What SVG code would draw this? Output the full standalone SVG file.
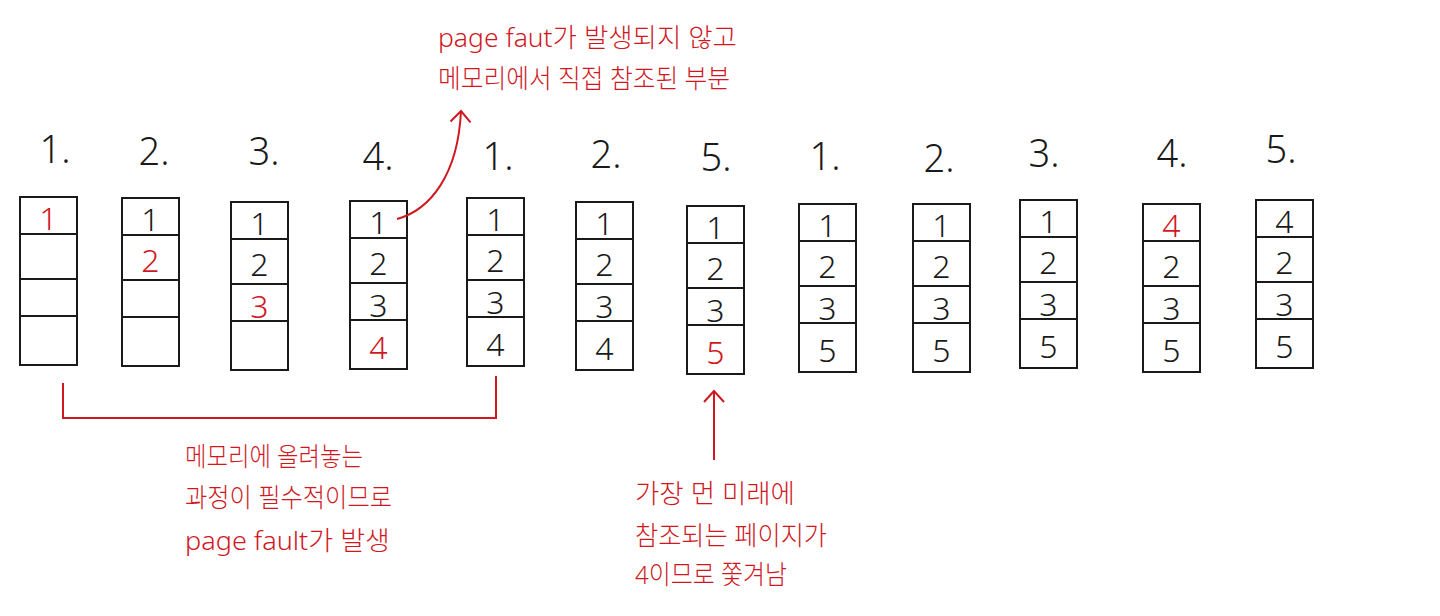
<svg xmlns="http://www.w3.org/2000/svg" width="1440" height="616" viewBox="0 0 1440 616">
<style>
.d{font-family:"Noto Sans","Liberation Sans",sans-serif;font-weight:300;font-size:32px;fill:#1a1a1a;text-anchor:middle}
.d.r{fill:#d0191f}
.lbl{font-family:"Noto Sans","Liberation Sans",sans-serif;font-weight:300;font-size:38px;fill:#1a1a1a;text-anchor:middle}
.note{font-family:"Noto Sans","Noto Sans CJK KR",sans-serif;font-weight:300;font-size:26px;fill:#d0191f}
.conn{fill:none;stroke:#d0191f;stroke-width:2}
</style>
<defs>
<marker id="ah" viewBox="-13 -11 15 22" markerWidth="15" markerHeight="22" refX="0" refY="0" orient="auto" markerUnits="userSpaceOnUse">
<path d="M-11,-10 L0,0 L-11,10" fill="none" stroke="#d0191f" stroke-width="2"/>
</marker>
<g id="frame" fill="#fff" stroke="#1a1a1a" stroke-width="2">
<rect x="0" y="0" width="57" height="168"/>
<line x1="0" y1="37" x2="57" y2="37"/>
<line x1="0" y1="82" x2="57" y2="82"/>
<line x1="0" y1="119" x2="57" y2="119"/>
</g>
</defs>

<g id="labels">
<text class="lbl" x="55" y="163">1.</text>
<text class="lbl" x="154" y="165">2.</text>
<text class="lbl" x="264" y="165">3.</text>
<text class="lbl" x="378" y="170">4.</text>
<text class="lbl" x="498" y="170">1.</text>
<text class="lbl" x="606" y="168">2.</text>
<text class="lbl" x="716" y="171">5.</text>
<text class="lbl" x="825" y="170">1.</text>
<text class="lbl" x="939" y="172">2.</text>
<text class="lbl" x="1044" y="167">3.</text>
<text class="lbl" x="1172" y="167">4.</text>
<text class="lbl" x="1281" y="163">5.</text>
</g>

<g id="box1" transform="translate(20,197)"><use href="#frame"/>
<text class="d r" x="28.5" y="33">1</text></g>
<g id="box2" transform="translate(122,198)"><use href="#frame"/>
<text class="d" x="28.5" y="33">1</text><text class="d r" x="28.5" y="74">2</text></g>
<g id="box3" transform="translate(231,202)"><use href="#frame"/>
<text class="d" x="28.5" y="33">1</text><text class="d" x="28.5" y="74">2</text><text class="d r" x="28.5" y="116">3</text></g>
<g id="box4" transform="translate(350,201)"><use href="#frame"/>
<text class="d" x="28.5" y="33">1</text><text class="d" x="28.5" y="74">2</text><text class="d" x="28.5" y="116">3</text><text class="d r" x="28.5" y="158">4</text></g>
<g id="box5" transform="translate(467,198)"><use href="#frame"/>
<text class="d" x="28.5" y="33">1</text><text class="d" x="28.5" y="74">2</text><text class="d" x="28.5" y="116">3</text><text class="d" x="28.5" y="158">4</text></g>
<g id="box6" transform="translate(576,202)"><use href="#frame"/>
<text class="d" x="28.5" y="33">1</text><text class="d" x="28.5" y="74">2</text><text class="d" x="28.5" y="116">3</text><text class="d" x="28.5" y="158">4</text></g>
<g id="box7" transform="translate(687,206)"><use href="#frame"/>
<text class="d" x="28.5" y="33">1</text><text class="d" x="28.5" y="74">2</text><text class="d" x="28.5" y="116">3</text><text class="d r" x="28.5" y="158">5</text></g>
<g id="box8" transform="translate(799,204)"><use href="#frame"/>
<text class="d" x="28.5" y="33">1</text><text class="d" x="28.5" y="74">2</text><text class="d" x="28.5" y="116">3</text><text class="d" x="28.5" y="158">5</text></g>
<g id="box9" transform="translate(913,204)"><use href="#frame"/>
<text class="d" x="28.5" y="33">1</text><text class="d" x="28.5" y="74">2</text><text class="d" x="28.5" y="116">3</text><text class="d" x="28.5" y="158">5</text></g>
<g id="box10" transform="translate(1020,200)"><use href="#frame"/>
<text class="d" x="28.5" y="33">1</text><text class="d" x="28.5" y="74">2</text><text class="d" x="28.5" y="116">3</text><text class="d" x="28.5" y="158">5</text></g>
<g id="box11" transform="translate(1143,204)"><use href="#frame"/>
<text class="d r" x="28.5" y="33">4</text><text class="d" x="28.5" y="74">2</text><text class="d" x="28.5" y="116">3</text><text class="d" x="28.5" y="158">5</text></g>
<g id="box12" transform="translate(1256,200)"><use href="#frame"/>
<text class="d" x="28.5" y="33">4</text><text class="d" x="28.5" y="74">2</text><text class="d" x="28.5" y="116">3</text><text class="d" x="28.5" y="158">5</text></g>

<g id="connectors">
<path class="conn" d="M397,219 C430,210 458,175 461,111" marker-end="url(#ah)"/>
<path class="conn" d="M63,383 L63,418 L496,418 L496,376"/>
<path class="conn" d="M714,460 L714,391" marker-end="url(#ah)"/>
</g>

<g id="note-top">
<text class="note" x="438" y="47" textLength="299" lengthAdjust="spacingAndGlyphs">page faut가 발생되지 않고</text>
<text class="note" x="438" y="88" textLength="292" lengthAdjust="spacingAndGlyphs">메모리에서 직접 참조된 부분</text>
</g>
<g id="note-left">
<text class="note" x="185" y="466" textLength="178" lengthAdjust="spacingAndGlyphs">메모리에 올려놓는</text>
<text class="note" x="185" y="507" textLength="207" lengthAdjust="spacingAndGlyphs">과정이 필수적이므로</text>
<text class="note" x="185" y="550" textLength="205" lengthAdjust="spacingAndGlyphs">page fault가 발생</text>
</g>
<g id="note-mid">
<text class="note" x="635" y="503" textLength="160" lengthAdjust="spacingAndGlyphs">가장 먼 미래에</text>
<text class="note" x="635" y="545" textLength="192" lengthAdjust="spacingAndGlyphs">참조되는 페이지가</text>
<text class="note" x="635" y="584" textLength="152" lengthAdjust="spacingAndGlyphs">4이므로 쫓겨남</text>
</g>
</svg>
